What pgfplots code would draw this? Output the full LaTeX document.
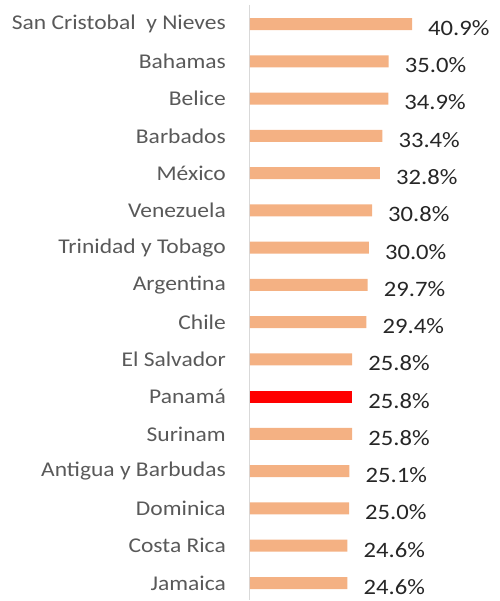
\documentclass[border=0pt]{standalone}
\usepackage{pgfplots}
\pgfplotsset{compat=1.18}
\usepackage{fontspec}
\setmainfont{Carlito}[FakeStretch=1.12]
\definecolor{barorange}{HTML}{F4B183}
\definecolor{barred}{HTML}{FF0000}
\definecolor{labgray}{HTML}{595959}
\definecolor{axgray}{HTML}{D9D9D9}

\begin{document}
\begin{tikzpicture}
\begin{axis}[
    xbar, bar width=12pt, bar shift=0pt,
    scale only axis, width=248pt, height=595pt,
    at={(0,0)}, anchor=south west,
    xmin=0, xmax=62.6,
    y dir=reverse, ymin=-0.51, ymax=15.456,
    axis x line=none,
    axis y line=left,
    y axis line style={-, draw=axgray, line width=1pt},
    ytick={0,...,15}, major tick length=0pt,
    yticklabels={San Cristobal\ \ y Nieves, Bahamas, Belice, Barbados, México, Venezuela, Trinidad y Tobago, Argentina, Chile, El Salvador, Panamá, Surinam, Antigua y Barbudas, Dominica, Costa Rica, Jamaica},
    yticklabel style={font=\fontsize{21}{24}\selectfont, text=labgray, anchor=east, inner sep=0pt, xshift=-24pt},
    nodes near coords={\pgfmathprintnumber[fixed,fixed zerofill,precision=1,assume math mode=true]{\pgfplotspointmeta}\%},
    nodes near coords style={font=\fontsize{22}{24}\selectfont, text=black!85, anchor=west, inner sep=0pt, xshift=16pt, yshift=-4pt},
]
\addplot[fill=barorange, draw=none] coordinates {
(40.9,0) (35.0,1) (34.9,2) (33.4,3) (32.8,4) (30.8,5) (30.0,6) (29.7,7)
(29.4,8) (25.8,9) (25.8,11) (25.1,12) (25.0,13) (24.6,14) (24.6,15)};
\addplot[fill=barred, draw=none] coordinates {(25.8,10)};
\end{axis}
\pgfresetboundingbox
\path[use as bounding box] (-250pt,-1pt) rectangle (249pt,600pt);
\end{tikzpicture}
\end{document}
